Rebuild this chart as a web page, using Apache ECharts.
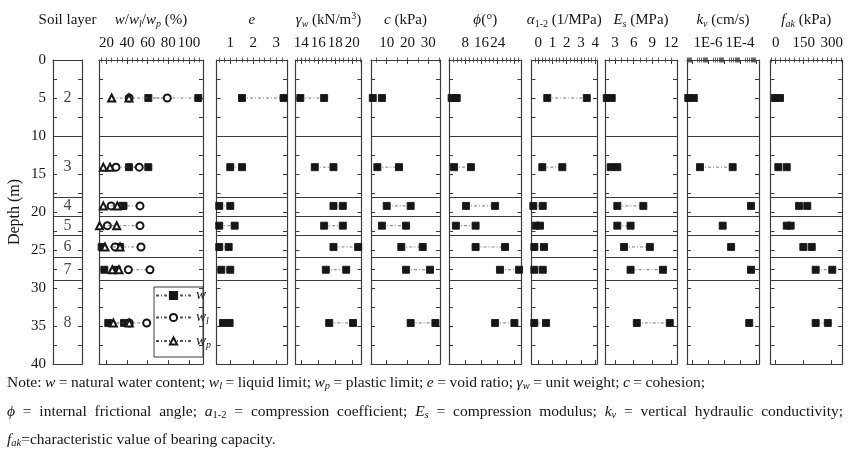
<!DOCTYPE html>
<html>
<head>
<meta charset="utf-8">
<script src="https://cdn.jsdelivr.net/npm/echarts@6/dist/echarts.min.js"></script>
<style>
  html, body { margin: 0; padding: 0; background: #fff; }
  #main { width: 853px; height: 452px; }
</style>
</head>
<body>
<div id="main"></div>
<script>
// soil layers: label, depth of the test row (m), boundaries between layers (m)
var layerNames = ['2', '3', '4', '5', '6', '7', '8'];
var layerDepth = [5, 14.1, 19.2, 21.8, 24.6, 27.6, 34.6];
var layerBounds = [10, 18, 20.5, 23, 26, 29];

// [min, max] of each property per layer
var wNat = [[60.6, 109.1], [41.8, 60.6], [35.5, 36.5], null, [15.3, 33.1], [17.9, 30], [21.7, 37]];
var wLiq = [[42, 79], [29.2, 51.8], [24.4, 52.5], [20.8, 52.5], [28.3, 53.5], [41.2, 62.2], [42.1, 59]];
var wPla = [[25, 41.8], [16.9, 23.4], [16.9, 30.5], [13.2, 29.9], [18.5, 33.1], [25.6, 32.1], [26.6, 42.1]];
var voidRatio = [[1.51, 3.32], [1.0, 1.51], [0.52, 1.0], [0.52, 1.19], [0.52, 0.93], [0.61, 1.0], [0.68, 0.97]];
var unitWeight = [[13.9, 16.7], [15.6, 17.8], [17.8, 18.9], [16.7, 18.9], [17.8, 20.7], [16.9, 19.3], [17.3, 20.1]];
var cohesion = [[3.3, 7.7], [5.5, 15.9], [10, 21.5], [7.7, 19.3], [17, 27.3], [19.3, 30.8], [21.5, 33.4]];
var frictionAngle = [[1.3, 3.8], [2.5, 10.8], [8.4, 22.7], [3.4, 13.1], [13.1, 27.6], [25.1, 34.5], [22.7, 32.2]];
var compCoef = [[0.63, 3.41], [0.28, 1.69], [-0.35, 0.31], [-0.18, 0.12], [-0.28, 0.4], [-0.28, 0.31], [-0.28, 0.54]];
var compModulus = [[1.67, 2.47], [2.3, 3.37], [3.37, 7.55], [3.37, 5.5], [4.45, 8.6], [5.5, 10.7], [6.5, 11.8]];
var hydCond = [[5.9e-8, 1.3e-7], [3.2e-7, 3.5e-5], [4.9e-4], [8.3e-6], [2.8e-5], [4.9e-4], [3.8e-4]];
var bearing = [[-4, 23], [14, 59], [125, 169], [59, 80], [148, 193], [214, 303], [214, 279]];

// tick labels of the top axes
var wTicks = [20, 40, 60, 80, 100];
var eTicks = [1, 2, 3];
var gTicks = [14, 16, 18, 20];
var cTicks = [10, 20, 30];
var phiTicks = [8, 16, 24];
var aTicks = [0, 1, 2, 3, 4];
var esTicks = [3, 6, 9, 12];
var kvTicks = [-6, -4];
var fakTicks = [0, 150, 300];

var FONT = '"Liberation Serif", "Times New Roman", serif';
var INK = '#161616';
var AXIS = '#3c3c3c';

function richSet(size, sub) {
  return {
    n: { fontFamily: FONT, fontSize: size, lineHeight: 18, color: INK },
    i: { fontFamily: FONT, fontSize: size, fontStyle: 'italic', lineHeight: 18, color: INK },
    s: { fontFamily: FONT, fontSize: sub, fontStyle: 'italic', lineHeight: 10, verticalAlign: 'bottom', color: INK },
    t: { fontFamily: FONT, fontSize: sub, lineHeight: 10, verticalAlign: 'bottom', color: INK },
    u: { fontFamily: FONT, fontSize: sub, lineHeight: 10, verticalAlign: 'top', color: INK }
  };
}
var rich = richSet(15, 10);
var noteRich = richSet(15.5, 10.5);

function steps(min, max, step) {
  var out = [];
  for (var k = Math.ceil(min / step); k * step <= max + 1e-9; k++) out.push(+(k * step).toFixed(6));
  return out;
}
function logMinor(min, max) {
  var out = [];
  for (var d = Math.floor(min); d <= Math.ceil(max); d++) {
    for (var m = 2; m < 10; m++) {
      var v = d + Math.log10(m);
      if (v >= min && v <= max) out.push(v);
    }
  }
  return out;
}
function rows(pairs, tf) {
  var out = [];
  pairs.forEach(function (p, i) {
    if (!p) return;
    p.forEach(function (v) { out.push([tf ? tf(v) : v, layerDepth[i]]); });
    out.push(['-', '-']);
  });
  return out;
}

var panels = [
  { left: 53, width: 29, min: 0, max: 1, title: '{n|Soil layer}', soil: true },
  { left: 99, width: 104, min: 12.7, max: 113.7, title: '{i|w}{n|/}{i|w}{s|l}{n|/}{i|w}{s|p}{n| (%)}',
    labels: wTicks, minor: steps(12.7, 113.7, 5),
    series: [
      { name: 'w', data: rows(wNat), symbol: 'rect' },
      { name: 'wl', data: rows(wLiq), symbol: 'emptyCircle' },
      { name: 'wp', data: rows(wPla), symbol: 'emptyTriangle' }
    ] },
  { left: 216.5, width: 70.5, min: 0.4, max: 3.47, title: '{i|e}', labels: eTicks,
    minor: steps(0.4, 3.47, 0.25), series: [{ name: 'e', data: rows(voidRatio) }] },
  { left: 295.5, width: 66, min: 13.33, max: 21.1, title: '{i|γ}{s|w}{n| (kN/m}{u|3}{n|)}', labels: gTicks,
    minor: steps(13.33, 21.1, 0.5), series: [{ name: 'gw', data: rows(unitWeight) }] },
  { left: 371, width: 69, min: 2.45, max: 35.6, title: '{i|c}{n| (kPa)}', labels: cTicks,
    minor: steps(2.45, 35.6, 5), series: [{ name: 'c', data: rows(cohesion) }] },
  { left: 449, width: 72.5, min: 0, max: 35.7, title: '{i|ϕ}{n|(°)}', labels: phiTicks, major: [0, 8, 16, 24, 32],
    minor: steps(0, 35.7, 2), series: [{ name: 'phi', data: rows(frictionAngle) }] },
  { left: 531.5, width: 65.5, min: -0.48, max: 4.13, title: '{i|α}{t|1-2}{n| (1/MPa)}', labels: aTicks,
    minor: steps(-0.48, 4.13, 0.25), series: [{ name: 'a', data: rows(compCoef) }] },
  { left: 605, width: 72, min: 1.39, max: 12.96, title: '{i|E}{s|s}{n| (MPa)}', labels: esTicks,
    minor: steps(1.39, 12.96, 1), series: [{ name: 'Es', data: rows(compModulus) }] },
  { left: 687, width: 72, min: -7.31, max: -2.81, title: '{i|k}{s|v}{n| (cm/s)}', labels: kvTicks,
    major: [-7, -6, -5, -4, -3], minor: logMinor(-7.31, -2.81),
    fmt: function (v) { return '1E' + v; },
    series: [{ name: 'kv', data: rows(hydCond, Math.log10) }] },
  { left: 770.5, width: 71.5, min: -27.9, max: 355, title: '{i|f}{s|ak}{n| (kPa)}', labels: fakTicks,
    minor: steps(-27.9, 355, 25), series: [{ name: 'fak', data: rows(bearing) }] }
];

var markLine = {
  silent: true, symbol: ['none', 'none'], label: { show: false },
  lineStyle: { color: AXIS, width: 1, type: 'solid' },
  data: layerBounds.map(function (d) { return { yAxis: d }; })
};

var option = {
  animation: false,
  backgroundColor: '#fff',
  grid: [], xAxis: [], yAxis: [], series: [],
  legend: {
    left: 155, top: 288, orient: 'vertical', padding: 0, itemGap: 7,
    itemWidth: 35, itemHeight: 9,
    data: ['w', 'wl', 'wp'],
    formatter: function (n) { return { w: '{i|w}', wl: '{i|w}{s|l}', wp: '{i|w}{s|p}' }[n]; },
    textStyle: { rich: rich, fontFamily: FONT, fontSize: 15 }
  },
  graphic: [
    { type: 'rect', z: 100, shape: { x: 154, y: 287, width: 49, height: 70 },
      style: { fill: 'none', stroke: AXIS, lineWidth: 1 } }
  ]
};

panels.forEach(function (p, gi) {
  option.grid.push({ left: p.left, top: 60, width: p.width, height: 304 });
  var xBase = option.xAxis.length;
  var yBase = option.yAxis.length;
  var major = p.major || p.labels;
  ['top', 'bottom'].forEach(function (pos) {
    option.xAxis.push({
      gridIndex: gi, type: 'value', position: pos, min: p.min, max: p.max,
      axisLine: { show: true, onZero: false, lineStyle: { color: AXIS, width: 1.2 } },
      axisTick: p.soil ? { show: false } : { show: true, inside: true, length: 4, customValues: major, lineStyle: { color: AXIS } },
      axisLabel: (pos === 'top' && !p.soil) ? {
        show: true, hideOverlap: false, customValues: p.labels, formatter: p.fmt || function (v) { return v; },
        margin: 9, fontFamily: FONT, fontSize: 15, color: INK
      } : { show: false },
      splitLine: { show: false },
      name: pos === 'top' ? p.title : '', nameLocation: 'middle', nameGap: 31,
      nameTextStyle: { rich: rich, fontFamily: FONT, fontSize: 15, color: INK }
    });
    option.xAxis.push({
      gridIndex: gi, type: 'value', position: pos, min: p.min, max: p.max,
      axisLine: { show: false },
      axisTick: p.soil ? { show: false } : { show: true, inside: true, length: 2.5, customValues: p.minor, lineStyle: { color: AXIS, width: 0.8 } },
      axisLabel: { show: false }, splitLine: { show: false }
    });
  });
  ['left', 'right'].forEach(function (pos) {
    var labelled = p.soil && pos === 'left';
    option.yAxis.push({
      gridIndex: gi, type: 'value', position: pos, inverse: true, min: 0, max: 40, interval: 2.5,
      axisLine: { show: true, onZero: false, lineStyle: { color: AXIS, width: 1.2 } },
      axisTick: { show: true, inside: true, length: 4, lineStyle: { color: AXIS } },
      axisLabel: labelled ? {
        show: true, margin: 7, fontFamily: FONT, fontSize: 15, color: INK,
        formatter: function (v) { return v % 5 === 0 ? v : ''; }
      } : { show: false },
      splitLine: { show: false },
      name: labelled ? 'Depth (m)' : '', nameLocation: 'middle', nameGap: 30,
      nameTextStyle: { fontFamily: FONT, fontSize: 16, color: INK }
    });
  });

  if (p.soil) {
    option.series.push({
      type: 'scatter', xAxisIndex: xBase, yAxisIndex: yBase, symbolSize: 0,
      data: layerDepth.map(function (d, i) { return [0.5, d, layerNames[i]]; }),
      label: { show: true, position: 'inside', formatter: function (q) { return q.value[2]; },
        fontFamily: FONT, fontSize: 16, color: INK },
      markLine: markLine
    });
    return;
  }
  p.series.forEach(function (s, k) {
    option.series.push({
      type: 'line', name: s.name, xAxisIndex: xBase, yAxisIndex: yBase,
      data: s.data, symbol: s.symbol || 'rect', symbolSize: 7, z: 3 + k,
      itemStyle: { color: INK, borderColor: INK, borderWidth: 0.9 },
      lineStyle: { color: '#555', width: 0.8, type: [3, 2, 1, 2] },
      connectNulls: false,
      markLine: k === 0 ? markLine : undefined
    });
  });
});

// note under the chart, laid out word by word like a justified paragraph
var noteLines = [
  'Note: {i|w} = natural water content; {i|w}{s|l} = liquid limit; {i|w}{s|p} = plastic limit; {i|e} = void ratio; {i|γ}{s|w} = unit weight; {i|c} = cohesion;',
  '{i|ϕ} = internal frictional angle; {i|a}{t|1-2} = compression coefficient; {i|E}{s|s} = compression modulus; {i|k}{s|v} = vertical hydraulic conductivity;',
  '{i|f}{s|ak}=characteristic value of bearing capacity.'
];
var noteY = [383, 412, 440];
var noteRight = [705, 843, null];

var ctx = document.createElement('canvas').getContext('2d');
function textWidth(str) {
  var re = /\{(\w)\|([^}]*)\}|([^{]+)/g, m, w = 0;
  while ((m = re.exec(str))) {
    var st = m[1] ? noteRich[m[1]] : noteRich.n;
    ctx.font = (st.fontStyle === 'italic' ? 'italic ' : '') + st.fontSize + 'px ' + FONT;
    w += ctx.measureText(m[1] ? m[2] : m[3]).width;
  }
  return w;
}
function noteText(t, x, y) {
  return {
    type: 'text', x: x, y: y,
    style: { text: t, fontFamily: FONT, fontSize: 15.5, fill: INK, rich: noteRich, verticalAlign: 'middle' }
  };
}
noteLines.forEach(function (line, li) {
  if (!noteRight[li]) {
    option.graphic.push(noteText(line, 7, noteY[li]));
    return;
  }
  var words = line.split(' ');
  var widths = words.map(textWidth);
  var total = widths.reduce(function (a, b) { return a + b; }, 0);
  var gap = (noteRight[li] - 7 - total) / (words.length - 1);
  var x = 7;
  words.forEach(function (t, k) {
    option.graphic.push(noteText(t, x, noteY[li]));
    x += widths[k] + gap;
  });
});

var chart = echarts.init(document.getElementById('main'), null, { renderer: 'canvas' });
chart.setOption(option);
</script>
</body>
</html>
